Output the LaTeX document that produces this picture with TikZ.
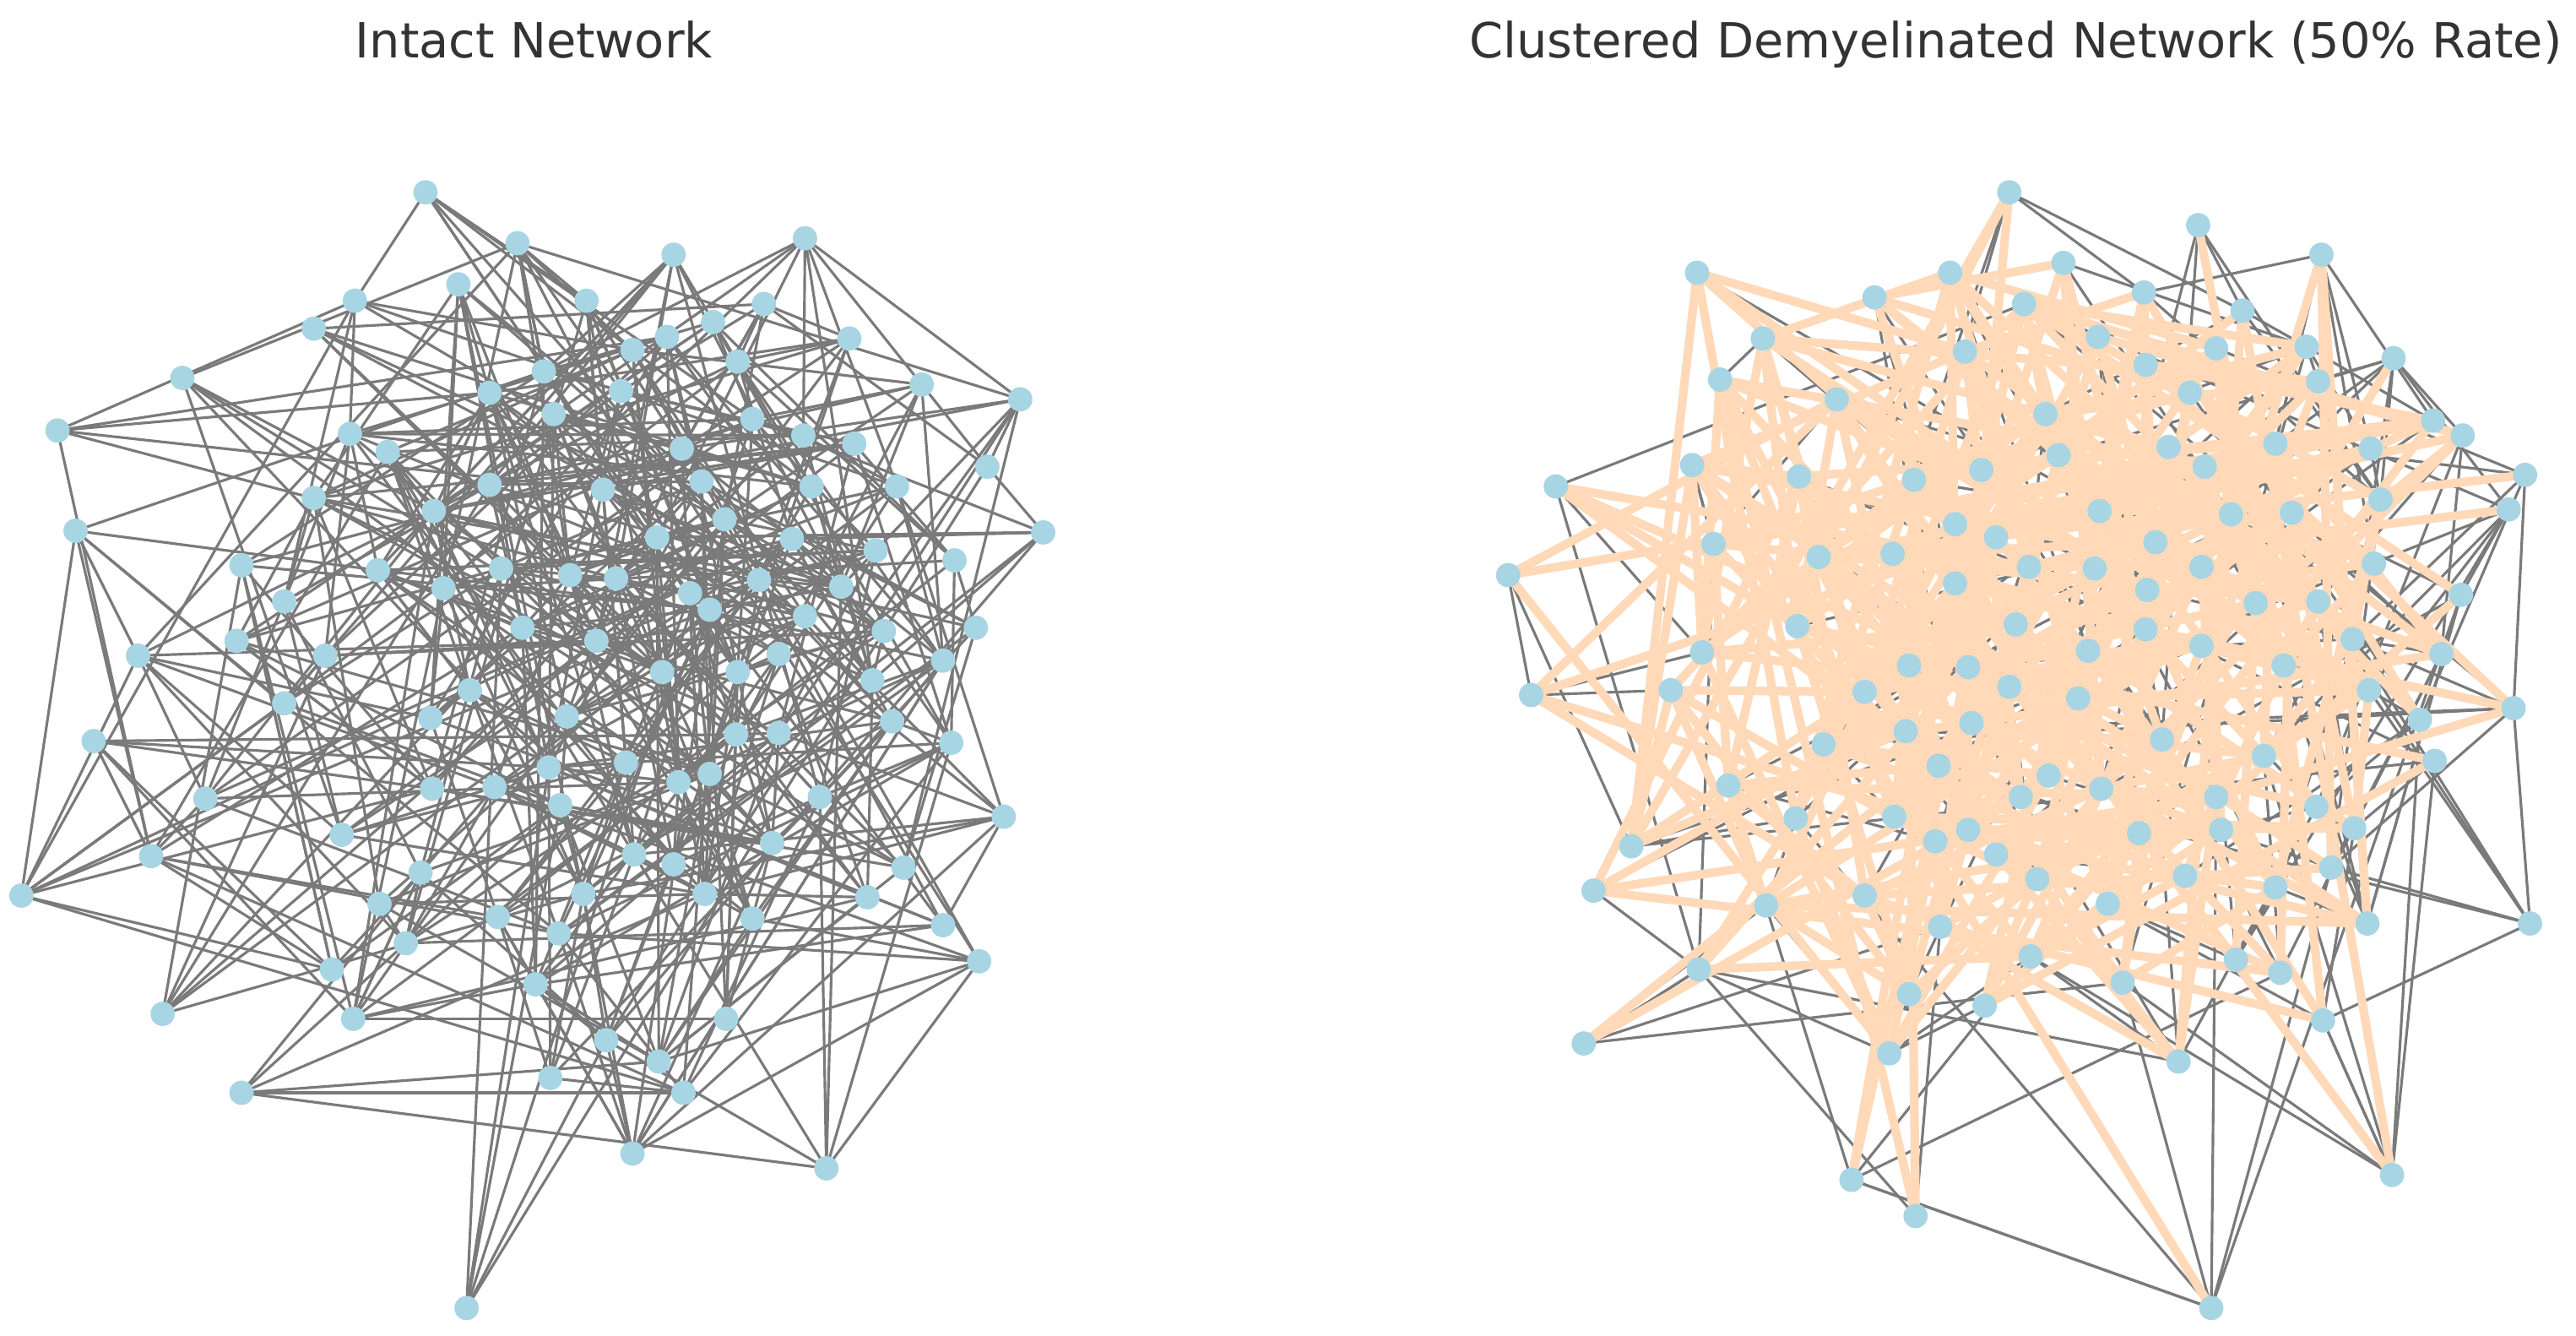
\documentclass[tikz,border=0pt]{standalone}
\usepackage{fontspec}
\setmainfont{DejaVu Sans}
\definecolor{nodeblue}{HTML}{A8D5E4}
\definecolor{edgegray}{HTML}{7A7A7A}
\definecolor{peachc}{HTML}{FFD9B8}
\definecolor{titlegray}{HTML}{333333}
\tikzset{
  dot/.style={circle, fill=nodeblue, draw=none, minimum size=0.74cm, inner sep=0pt},
  gedge/.style={draw=edgegray, line width=2.3pt},
  pedge/.style={draw=peachc, line width=7.5pt},
  ttl/.style={font=\fontsize{42}{50}\selectfont, text=titlegray, anchor=base, inner sep=0pt}
}
% #1 prefix (l/r), #2 count macro, #3 seed, #4 pass (0 gray, 1 peach), #5 clustered (0/1)
\newcommand\myedges[5]{%
\pgfmathsetseed{#3}%
\foreach \i in {1,...,#2} {
  \foreach \k in {1,...,5} {
    \pgfmathtruncatemacro\myca{random(1,#2)}
    \pgfmathtruncatemacro\mycb{random(1,#2)}
    \edef\pxi{\csname #1x\i\endcsname}\edef\pyi{\csname #1y\i\endcsname}
    \edef\pxa{\csname #1x\myca\endcsname}\edef\pya{\csname #1y\myca\endcsname}
    \edef\pxb{\csname #1x\mycb\endcsname}\edef\pyb{\csname #1y\mycb\endcsname}
    \pgfmathsetmacro\mydA{((\pxi-\pxa)/100)^2+((\pyi-\pya)/100)^2}
    \pgfmathsetmacro\mydB{((\pxi-\pxb)/100)^2+((\pyi-\pyb)/100)^2}
    \ifdim\mydA pt<\mydB pt \let\mycj\myca \else \let\mycj\mycb \fi
    \edef\pxj{\csname #1x\mycj\endcsname}\edef\pyj{\csname #1y\mycj\endcsname}
    \pgfmathsetmacro\mydM{(((\pxi+\pxj)/2-1220)/100)^2+(((\pyi+\pyj)/2-390)/100)^2}
    \pgfmathsetmacro\myrr{rnd}
    \def\mypeach{0}%
    \ifnum#5=1 \ifdim\mydM pt<5.3pt \ifdim\myrr pt<0.75pt \def\mypeach{1}\fi\fi\fi
    \ifnum\mycj=\i\relax\else
      \ifnum\mypeach=#4
        \ifnum#4=1 \draw[pedge] (#1c\i) -- (#1c\mycj);
        \else \draw[gedge] (#1c\i) -- (#1c\mycj);
        \fi
      \fi
    \fi
  }
}}
\begin{document}
\begin{tikzpicture}[x=0.05cm, y=-0.05cm]
\useasboundingbox (0,0) rectangle (1568,813);
\node[ttl] (t1) at (325,35) {Intact Network};
\node[ttl] (t2) at (1227,35) {Clustered Demyelinated Network (50\% Rate)};
% ---------- left graph coordinates
\foreach \x/\y [count=\i] in {259/117, 315/148, 410/155, 490/145, 216/183, 191/200, 279/173, 357/183, 465/185, 434/196, 517/206, 406/205, 385/213, 449/220, 331/226, 298/239, 378/238, 111/230, 561/234, 621/243, 35/262, 213/264, 236/275, 337/252, 415/273, 458/255, 489/265, 520/270, 601/284, 546/296, 494/296, 427/293, 367/298, 298/295, 191/303, 264/311, 46/323, 635/324, 441/316, 400/327, 482/328, 581/341, 533/335, 147/344, 173/366, 270/358, 305/346, 347/350, 375/352, 420/361, 462/353, 512/357, 230/347, 318/382, 363/390, 432/371, 490/375, 538/384, 594/382, 144/390, 198/399, 84/399, 403/409, 449/409, 474/398, 531/414, 574/402, 286/420, 262/437, 173/428, 345/436, 448/447, 474/446, 543/439, 57/451, 579/452, 381/464, 413/476, 432/471, 334/467, 263/480, 301/479, 341/490, 125/486, 499/485, 611/497, 208/508, 92/521, 256/531, 410/526, 470/513, 386/520, 231/550, 355/544, 429/544, 458/559, 528/546, 550/528, 13/545, 303/558, 340/568, 247/574, 202/590, 574/563, 596/585, 99/617, 215/620, 326/599, 369/633, 442/620, 401/646, 335/656, 416/665, 147/665, 385/702, 503/711, 284/796} {
  \coordinate (lc\i) at (\x,\y);
  \expandafter\xdef\csname lx\i\endcsname{\x}%
  \expandafter\xdef\csname ly\i\endcsname{\y}%
  \xdef\NL{\i}%
}
% ---------- right graph coordinates
\foreach \x/\y [count=\i] in {1223/117, 1338/137, 1413/155, 1033/166, 1187/166, 1256/160, 1305/178, 1141/181, 1232/185, 1365/189, 1404/211, 1457/218, 1073/206, 1196/214, 1277/205, 1306/222, 1349/212, 1047/231, 1118/243, 1245/252, 1333/239, 1411/232, 1481/256, 1499/265, 1030/283, 947/296, 1095/290, 1165/292, 1206/286, 1253/277, 1320/272, 1342/284, 1385/270, 1443/273, 1537/289, 1527/310, 1190/319, 1215/327, 1278/311, 1312/330, 1358/313, 1395/312, 1449/304, 1043/331, 1107/339, 1152/337, 1235/345, 1275/346, 1340/345, 1445/343, 918/350, 1190/355, 1307/359, 1373/367, 1411/366, 1498/362, 1094/381, 1227/380, 1306/383, 1271/396, 1340/393, 1432/389, 1036/397, 1162/405, 1198/406, 1390/405, 1486/398, 932/423, 1017/420, 1135/421, 1223/418, 1265/425, 1442/420, 1473/438, 1530/431, 1110/453, 1160/445, 1200/440, 1316/450, 1378/460, 1482/463, 1180/466, 1247/472, 1279/480, 1052/478, 1349/485, 1410/491, 1093/498, 1153/497, 1230/485, 1178/512, 1198/505, 1302/507, 1352/505, 1433/504, 993/515, 1215/520, 1240/535, 1330/533, 1385/540, 1419/528, 970/542, 1075/551, 1135/545, 1283/550, 1441/562, 1540/562, 1181/564, 1236/582, 1034/590, 1162/605, 1208/612, 1292/598, 1361/584, 1388/592, 1414/621, 964/635, 1150/641, 1326/646, 1456/715, 1127/718, 1166/740, 1346/796} {
  \coordinate (rc\i) at (\x,\y);
  \expandafter\xdef\csname rx\i\endcsname{\x}%
  \expandafter\xdef\csname ry\i\endcsname{\y}%
  \xdef\NR{\i}%
}
% ---------- edges
\myedges{l}{\NL}{11}{0}{0}
\myedges{r}{\NR}{23}{0}{1}
\myedges{r}{\NR}{23}{1}{1}
% ---------- nodes on top
\foreach \i in {1,...,\NL} { \node[dot] (l\i) at (lc\i) {}; }
\foreach \i in {1,...,\NR} { \node[dot] (r\i) at (rc\i) {}; }
\end{tikzpicture}
\end{document}
